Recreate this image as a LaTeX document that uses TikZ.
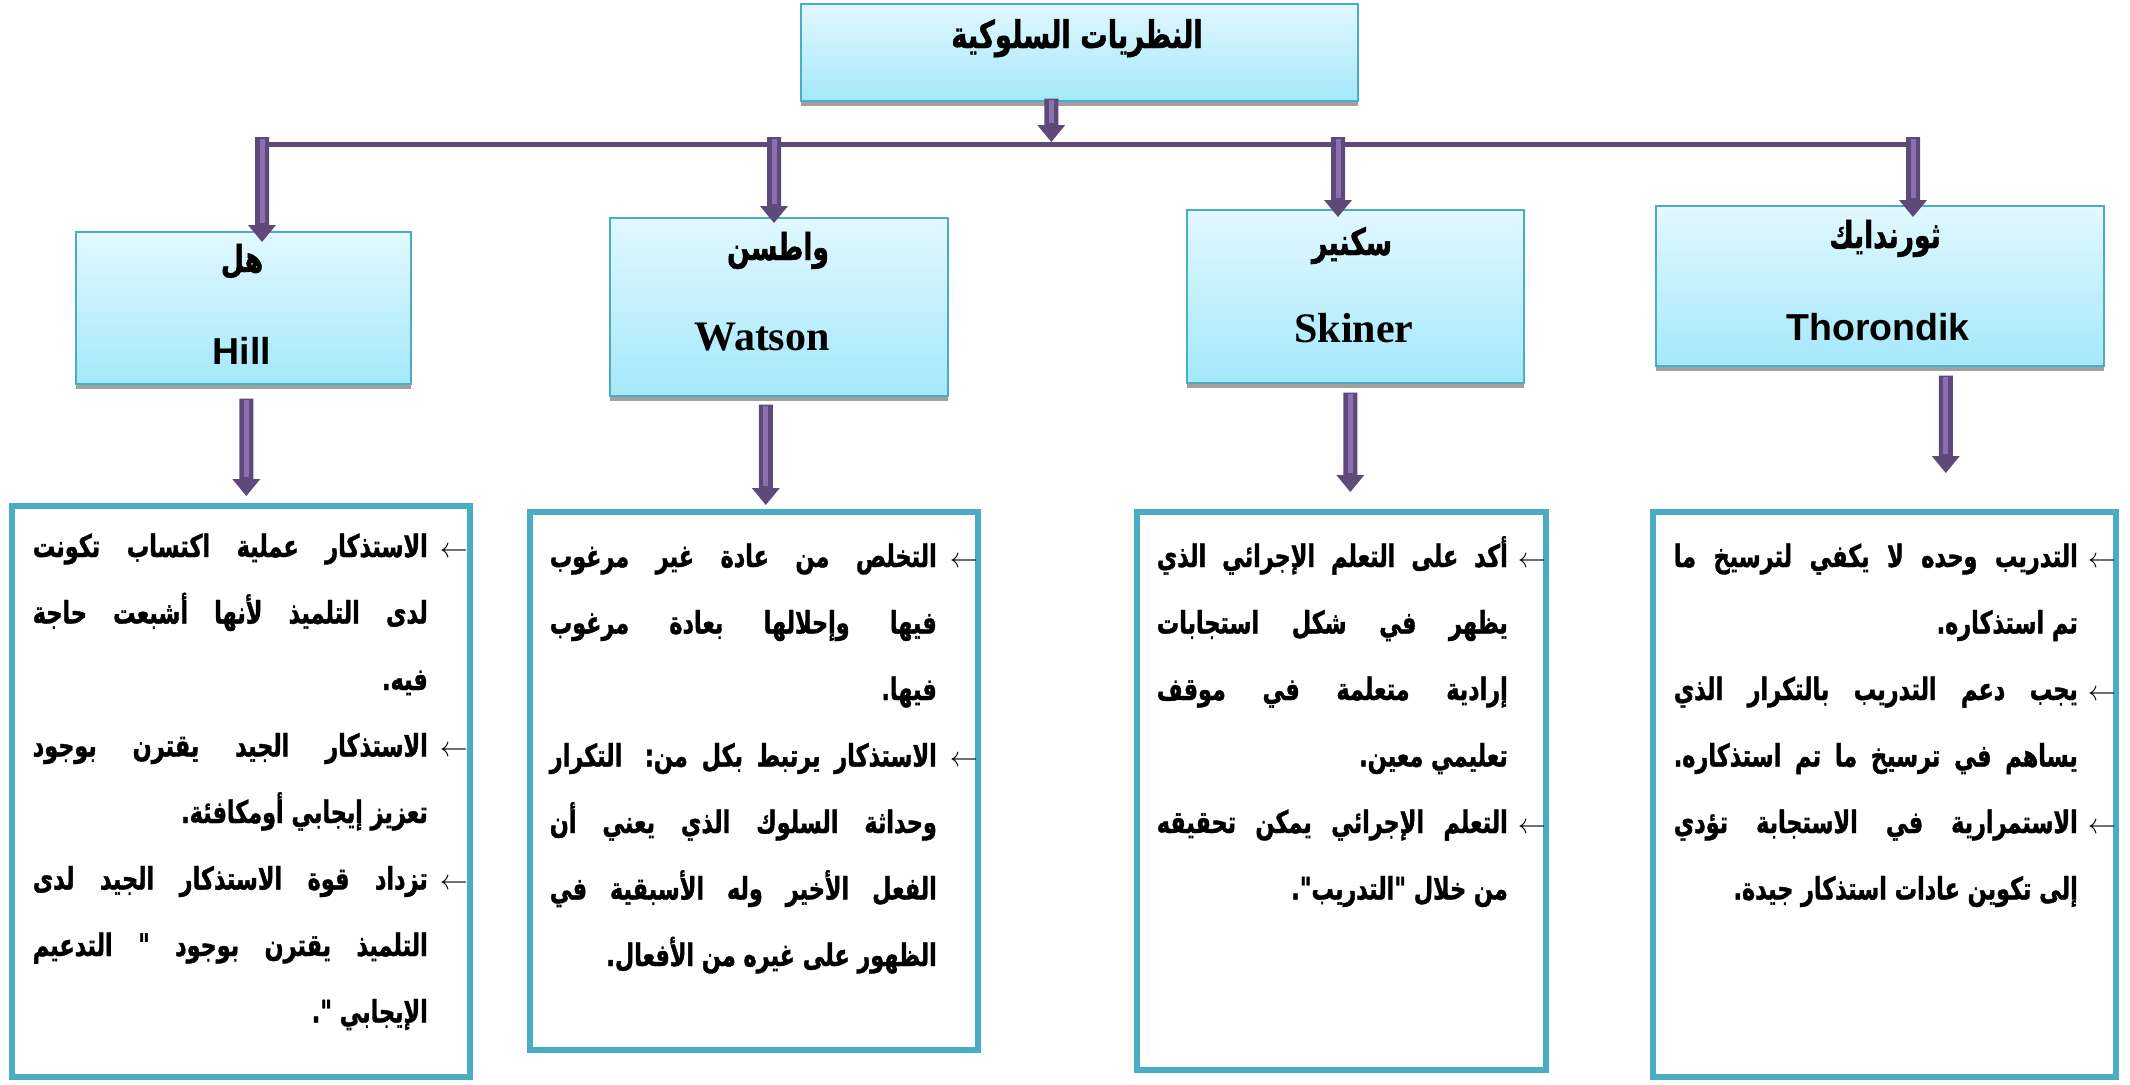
\documentclass[tikz,border=0pt]{standalone}
\usepackage{fontspec}
\usepackage{graphicx}
\usetikzlibrary{calc,shadows}
\TeXXeTstate=1
\newfontfamily\arabicfont[Script=Arabic, FakeStretch=0.72, FakeBold=1.2]{DejaVu Sans}
\newfontfamily\latsans{Liberation Sans}
\newfontfamily\latserif{Liberation Serif}
\definecolor{boxline}{HTML}{4BACC6}
\definecolor{boxtop}{HTML}{E2F8FE}
\definecolor{boxbot}{HTML}{A4E8FA}
\definecolor{shadowgray}{HTML}{A0A0A0}
\definecolor{arrdark}{HTML}{5F497A}
\definecolor{arrlight}{HTML}{8A70AD}
\newdimen\LineW
\newdimen\ArrSp
\newcommand\bul{\hbox{\resizebox{28pt}{!}{$\leftarrow$}}}
\newcommand\Ja[1]{\hbox to\LineW{\beginR #1\endR\hbox to\ArrSp{\hfil\bul}}}
\newcommand\Jc[1]{\hbox to\LineW{\beginR #1\endR\kern\ArrSp}}
\newcommand\Rc[1]{\hbox to\LineW{\hfil\beginR #1\endR\kern\ArrSp}}
\newcommand\bodytext[3]{\LineW=#1pt\relax\ArrSp=#2pt\relax
  \vtop{\baselineskip=66.5pt\relax\lineskiplimit=-100pt\relax\lineskip=0pt\relax #3}}
\newcommand\barrow[2]{%
  \fill[arrdark] let \p1=(#1), \p2=(#2) in
    (\x1-7pt,\y1) -- (\x1+7pt,\y1) -- (\x1+7pt,\y2+17pt) -- (\x1+14pt,\y2+17pt)
    -- (\x1,\y2) -- (\x1-14pt,\y2+17pt) -- (\x1-7pt,\y2+17pt) -- cycle;
  \draw[arrlight, line width=5pt] let \p1=(#1), \p2=(#2) in
    (\x1,\y1-1.5pt) -- (\x1,\y2+19pt);}
\begin{document}
\begin{tikzpicture}[x=1pt,y=-1pt,
  tbox/.style={draw=boxline, line width=1.6pt, top color=boxtop, bottom color=boxbot,
    inner sep=0pt, anchor=north west,
    drop shadow={shadow xshift=0.5pt, shadow yshift=-5pt, opacity=1, fill=shadowgray}},
  bbox/.style={draw=boxline, line width=5.5pt, fill=white, inner sep=0pt, anchor=north west},
  bodyfont/.style={font=\arabicfont\bfseries\fontsize{31}{31}\selectfont, inner sep=0pt, anchor=base east},
  arname/.style={font=\arabicfont\bfseries\fontsize{37}{37}\selectfont, inner sep=0pt, anchor=base},
  ensans/.style={font=\latsans\bfseries\fontsize{37.5}{37.5}\selectfont, inner sep=0pt, anchor=base},
  enserif/.style={font=\latserif\bfseries\fontsize{42}{42}\selectfont, inner sep=0pt, anchor=base},
  ttl/.style={font=\arabicfont\bfseries\fontsize{38}{38}\selectfont, inner sep=0pt, anchor=base},
  bus/.style={draw=arrdark, line width=5pt}]
\fill[white] (0,0) rectangle (2130,1084);
\useasboundingbox (0,0) rectangle (2130,1084);

% title
\node[tbox, minimum width=557pt, minimum height=97pt] (title) at (800,3) {};
\node[ttl] (titletxt) at (1077,48) {\beginR النظريات السلوكية\endR};

% bus
\coordinate (busL) at (255,144.5);
\coordinate (busR) at (1920,144.5);
\draw[bus] (busL) -- (busR);

% theorist boxes
\node[tbox, minimum width=335pt, minimum height=152pt] (hill) at (75,231) {};
\node[tbox, minimum width=338pt, minimum height=178pt] (watson) at (609,217) {};
\node[tbox, minimum width=337pt, minimum height=173pt] (skiner) at (1186,209) {};
\node[tbox, minimum width=448pt, minimum height=160pt] (thor) at (1655,205) {};

\node[arname] (hillar) at (242,272) {\beginR هل\endR};
\node[ensans] (hillen) at (242,364) {Hill};
\node[arname] (watsonar) at (778,260) {\beginR واطسن\endR};
\node[enserif] (watsonen) at (762,350) {Watson};
\node[arname] (skinerar) at (1352,255) {\beginR سكنير\endR};
\node[enserif] (skineren) at (1354,342) {Skiner};
\node[arname] (thorar) at (1885,248) {\beginR ثورندايك\endR};
\node[ensans] (thoren) at (1878,340) {Thorondik};

% body boxes
\node[bbox, minimum width=458pt, minimum height=571pt] (hillbox) at (9,503) {};
\node[bbox, minimum width=448pt, minimum height=538pt] (watsonbox) at (527,509) {};
\node[bbox, minimum width=409pt, minimum height=558pt] (skinerbox) at (1134,509) {};
\node[bbox, minimum width=463pt, minimum height=565pt] (thorbox) at (1650,509) {};

% arrows
\barrow{$(title.south)+(-28,-3)$}{$(busL)+(0,-2.5)$}
\coordinate (d1) at (262,137);
\coordinate (d2) at (774,137);
\coordinate (d3) at (1338,137);
\coordinate (d4) at (1913,137);
\barrow{d1}{$(hill.north)+(0,11)$}
\barrow{d2}{$(watson.north)+(0,6)$}
\barrow{d3}{$(skiner.north)+(0,8)$}
\barrow{d4}{$(thor.north)+(0,12)$}
\barrow{$(hill.south)+(3,14)$}{$(hillbox.north)+(0,-7)$}
\barrow{$(watson.south)+(-13,8)$}{$(watsonbox.north)+(0,-4)$}
\barrow{$(skiner.south)+(-5,9)$}{$(skinerbox.north)+(0,-17)$}
\barrow{$(thor.south)+(66,9)$}{$(thorbox.north)+(0,-36)$}

% body texts
\node[bodyfont] (hilltxt) at (468,557) {\bodytext{435}{40}{%
\Ja{الاستذكار عملية اكتساب تكونت}
\Jc{لدى التلميذ لأنها أشبعت حاجة}
\Rc{فيه.}
\Ja{الاستذكار الجيد يقترن بوجود}
\Rc{تعزيز إيجابي أومكافئة.}
\Ja{تزداد قوة الاستذكار الجيد لدى}
\Jc{التلميذ يقترن بوجود " التدعيم}
\Rc{الإيجابي ".}}};

\node[bodyfont] (watsontxt) at (978,567) {\bodytext{428}{41}{%
\Ja{التخلص من عادة غير مرغوب}
\Jc{فيها وإحلالها بعادة مرغوب}
\Rc{فيها.}
\Ja{الاستذكار يرتبط بكل من: التكرار}
\Jc{وحداثة السلوك الذي يعني أن}
\Jc{الفعل الأخير وله الأسبقية في}
\Rc{الظهور على غيره من الأفعال.}}};

\node[bodyfont] (skinertxt) at (1546,567) {\bodytext{389}{38}{%
\Ja{أكد على التعلم الإجرائي الذي}
\Jc{يظهر في شكل استجابات}
\Jc{إرادية متعلمة في موقف}
\Rc{تعليمي معين.}
\Ja{التعلم الإجرائي يمكن تحقيقه}
\Rc{من خلال "التدريب".}}};

\node[bodyfont] (thortxt) at (2116,567) {\bodytext{442}{38}{%
\Ja{التدريب وحده لا يكفي لترسيخ ما}
\Rc{تم استذكاره.}
\Ja{يجب دعم التدريب بالتكرار الذي}
\Jc{يساهم في ترسيخ ما تم استذكاره.}
\Ja{الاستمرارية في الاستجابة تؤدي}
\Rc{إلى تكوين عادات استذكار جيدة.}}};
\end{tikzpicture}
\end{document}
